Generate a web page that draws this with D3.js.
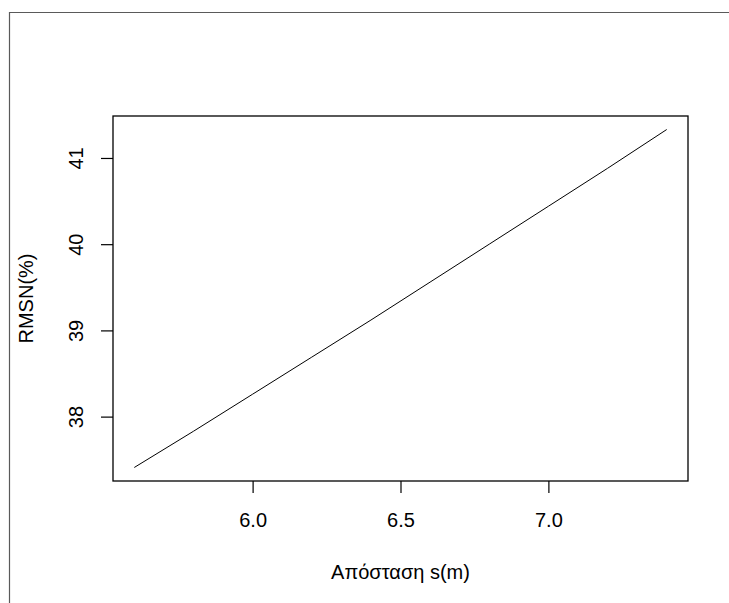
<!DOCTYPE html>
<html>
<head>
<meta charset="utf-8">
<script src="https://cdn.jsdelivr.net/npm/d3@7"></script>
<style>
  html, body { margin: 0; padding: 0; background: #fff; }
  text { font-family: "Liberation Sans", Arial, sans-serif; fill: #000; }
</style>
</head>
<body>
<svg id="chart" width="729" height="603"></svg>
<script>
// Distance s (m) and the resulting RMSN (%)
const distance = [5.6, 5.8, 6.0, 6.2, 6.4, 6.6, 6.8, 7.0, 7.2, 7.4];
const rmsn = [37.41, 37.83, 38.26, 38.69, 39.12, 39.56, 40.00, 40.44, 40.88, 41.33];
const xTickValues = [6.0, 6.5, 7.0];
const yTickValues = [38, 39, 40, 41];
const xTitle = "Απόσταση s(m)";
const yTitle = "RMSN(%)";

const svg = d3.select("#chart");
const plot = { left: 113, right: 688, top: 116, bottom: 481 };

// R-style 4% padding around the data range
function padded(vals) {
  const [lo, hi] = d3.extent(vals);
  const p = (hi - lo) * 0.04;
  return [lo - p, hi + p];
}

const x = d3.scaleLinear().domain(padded(distance)).range([plot.left, plot.right]);
const y = d3.scaleLinear().domain(padded(rmsn)).range([plot.bottom, plot.top]);

svg.append("rect").attr("width", 729).attr("height", 603).attr("fill", "#fff");

// outer frame (top and left edges)
svg.append("path")
  .attr("d", "M9.5,603 V12.5 H729")
  .attr("fill", "none").attr("stroke", "#5a5a5a").attr("stroke-width", 1.2);

// x axis
const gx = svg.append("g")
  .attr("transform", `translate(0,${plot.bottom})`)
  .call(d3.axisBottom(x).tickValues(xTickValues).tickFormat(d3.format(".1f")).tickSize(12));
gx.select(".domain").remove();
gx.selectAll("line").attr("stroke", "#000").attr("stroke-width", 1.2);
gx.selectAll("text")
  .attr("y", 46).attr("dy", 0)
  .style("font-size", "20px").style("font-family", "Liberation Sans, Arial, sans-serif");

// y axis with rotated labels
const gy = svg.append("g")
  .attr("transform", `translate(${plot.left},0)`)
  .call(d3.axisLeft(y).tickValues(yTickValues).tickFormat(d3.format("d")).tickSize(12));
gy.select(".domain").remove();
gy.selectAll("line").attr("stroke", "#000").attr("stroke-width", 1.2);
gy.selectAll("text")
  .attr("x", null).attr("dy", null)
  .attr("text-anchor", "middle")
  .attr("transform", "translate(-30,0) rotate(-90)")
  .style("font-size", "20px").style("font-family", "Liberation Sans, Arial, sans-serif");

// plot box
svg.append("rect")
  .attr("x", plot.left).attr("y", plot.top)
  .attr("width", plot.right - plot.left).attr("height", plot.bottom - plot.top)
  .attr("fill", "none").attr("stroke", "#000").attr("stroke-width", 1.3);

// series line
const line = d3.line().x((d, i) => x(distance[i])).y(d => y(d));
svg.append("path")
  .datum(rmsn)
  .attr("d", line)
  .attr("fill", "none").attr("stroke", "#000").attr("stroke-width", 1);

// axis titles
svg.append("text")
  .attr("x", (plot.left + plot.right) / 2).attr("y", 579)
  .attr("text-anchor", "middle").style("font-size", "20px")
  .text(xTitle);

svg.append("text")
  .attr("transform", `translate(33,${(plot.top + plot.bottom) / 2}) rotate(-90)`)
  .attr("text-anchor", "middle").style("font-size", "20px")
  .text(yTitle);
</script>
</body>
</html>
